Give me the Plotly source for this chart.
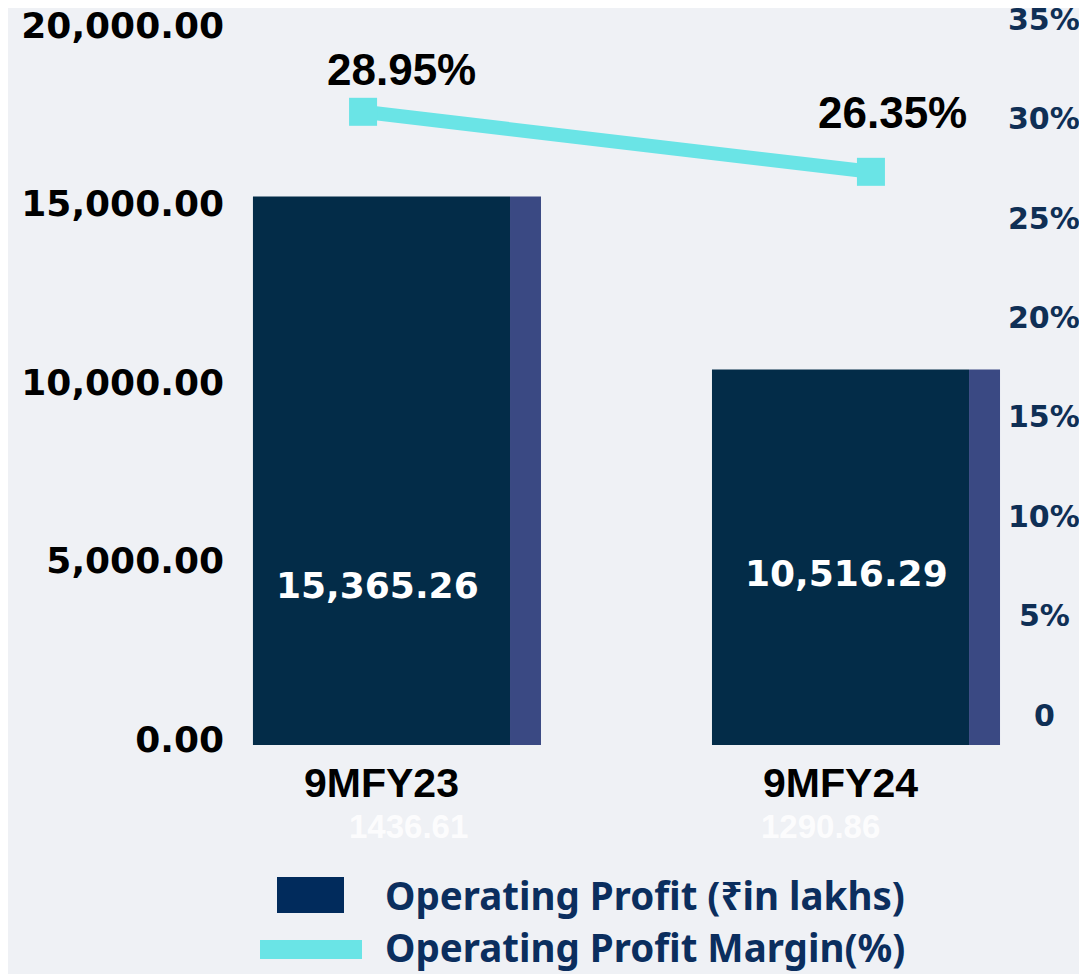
import plotly.graph_objects as go

# data
periods = ["9MFY23", "9MFY24"]
op_profit = [15365.26, 10516.29]          # Operating Profit (₹ in lakhs)
op_margin = [28.95, 26.35]                # Operating Profit Margin (%)
hidden_vals = ["1436.61", "1290.86"]      # faint labels under the x axis
left_ticks = [0, 5000, 10000, 15000, 20000]
right_ticks = [0, 5, 10, 15, 20, 25, 30, 35]
right_ticktext = ["0", "5%", "10%", "15%", "20%", "25%", "30%", "35%"]

W, H = 1087, 974
OFF = 8  # page body margin
L, R, T, B = 222, 92, 2, 237
pw, ph = W - L - R, H - T - B

# helpers: screen pixel -> paper coordinates
def px_x(px):
    return (px - OFF - L) / pw

def px_y(py):
    return (H - B - (py - OFF)) / ph

BG = "#EFF1F5"
NAVY = "#032C48"
PURPLE = "#3A4983"
CYAN = "#6AE4E6"
LEG_TXT = "#0B2E5E"

fig = go.Figure()

fig.add_trace(go.Bar(
    x=periods, y=op_profit, marker_color=NAVY, width=0.56, offset=-0.28,
    marker_line_width=0, showlegend=False, hoverinfo="skip"))
fig.add_trace(go.Bar(
    x=periods, y=op_profit, marker_color=PURPLE, width=0.0675, offset=0.28,
    marker_line_width=0, showlegend=False, hoverinfo="skip"))

fig.add_trace(go.Scatter(
    x=periods, y=op_margin, xaxis="x2", yaxis="y2", mode="lines+markers",
    line=dict(color=CYAN, width=14), marker=dict(symbol="square", size=28, color=CYAN),
    showlegend=False, hoverinfo="skip"))

# keeps the percentage scale alive
fig.add_trace(go.Scatter(
    x=[periods[0]] * len(right_ticks), y=right_ticks, yaxis="y3", mode="markers",
    marker=dict(opacity=0), showlegend=False, hoverinfo="skip"))

ann = []
# bar value labels
for p, v, xs, ys in zip(periods, op_profit, [-4, 6], [160, 172]):
    ann.append(dict(x=p, y=0, text=f"{v:,.2f}", showarrow=False, xshift=xs, yshift=ys,
                    yanchor="middle", xanchor="center",
                    font=dict(family="DejaVu Sans", size=36, color="white", weight="bold")))
# margin labels
for p, v, xs, ys in zip(periods, op_margin, [38, 22], [42, 59]):
    ann.append(dict(x=p, y=v, xref="x2", yref="y2", text=f"{v:.2f}%", showarrow=False,
                    xshift=xs, yshift=ys, yanchor="middle", xanchor="center",
                    font=dict(family="Liberation Sans", size=44, color="black", weight="bold")))
# faint labels
for p, t, xs in zip(periods, hidden_vals, [27, -20]):
    ann.append(dict(x=p, y=px_y(826), yref="paper", text=t, showarrow=False, xshift=xs,
                    yanchor="middle", xanchor="center",
                    font=dict(family="Liberation Sans", size=33, color="rgba(255,255,255,0.85)",
                              weight="bold")))
# right axis labels (centered)
for v, t in zip(right_ticks, right_ticktext):
    ann.append(dict(x=px_x(1044), xref="paper", y=v, yref="y3", text=t, showarrow=False,
                    xanchor="center", yanchor="middle", yshift=-2,
                    font=dict(family="DejaVu Sans", size=30, color="#0F2F55", weight="bold")))
# legend text
ann.append(dict(x=px_x(383), y=px_y(895), xref="paper", yref="paper", xanchor="left",
                yanchor="middle", text="Operating Profit (₹in lakhs)", showarrow=False,
                font=dict(family="Noto Sans", size=38.5, color=LEG_TXT, weight="bold")))
ann.append(dict(x=px_x(383), y=px_y(947), xref="paper", yref="paper", xanchor="left",
                yanchor="middle", text="Operating Profit Margin(%)", showarrow=False,
                font=dict(family="Noto Sans", size=38.5, color=LEG_TXT, weight="bold")))

shapes = [
    dict(type="rect", xref="paper", yref="paper", x0=px_x(277), x1=px_x(344),
         y0=px_y(913), y1=px_y(877), fillcolor="#012B5C", line_width=0),
    dict(type="rect", xref="paper", yref="paper", x0=px_x(260), x1=px_x(362),
         y0=px_y(959), y1=px_y(940), fillcolor=CYAN, line_width=0),
]

fig.update_layout(
    width=W, height=H, margin=dict(l=L, r=R, t=T, b=B, autoexpand=False),
    paper_bgcolor=BG, plot_bgcolor=BG, barmode="overlay",
    annotations=ann, shapes=shapes,
    xaxis=dict(type="category", range=[-0.330, 1.354], showgrid=False, zeroline=False,
               showline=False, ticklabelstandoff=10, automargin=False,
               tickfont=dict(family="Liberation Sans", size=41, color="black", weight="bold")),
    xaxis2=dict(type="category", overlaying="x", range=[-0.262, 1.260], visible=False),
    yaxis=dict(range=[0, ph / 0.0357], tickvals=left_ticks, tickformat=",.2f",
               showgrid=False, zeroline=False, showline=False, automargin=False,
               ticklabelstandoff=5, ticklabelshift=-6, ticklabeloverflow="allow",
               tickfont=dict(family="DejaVu Sans", size=36, color="black", weight="bold")),
    yaxis2=dict(overlaying="y", range=[1.52, 33.36], visible=False),
    yaxis3=dict(overlaying="y", range=[-1.61, 35.38], visible=False),
)

fig.write_html("out.html")
